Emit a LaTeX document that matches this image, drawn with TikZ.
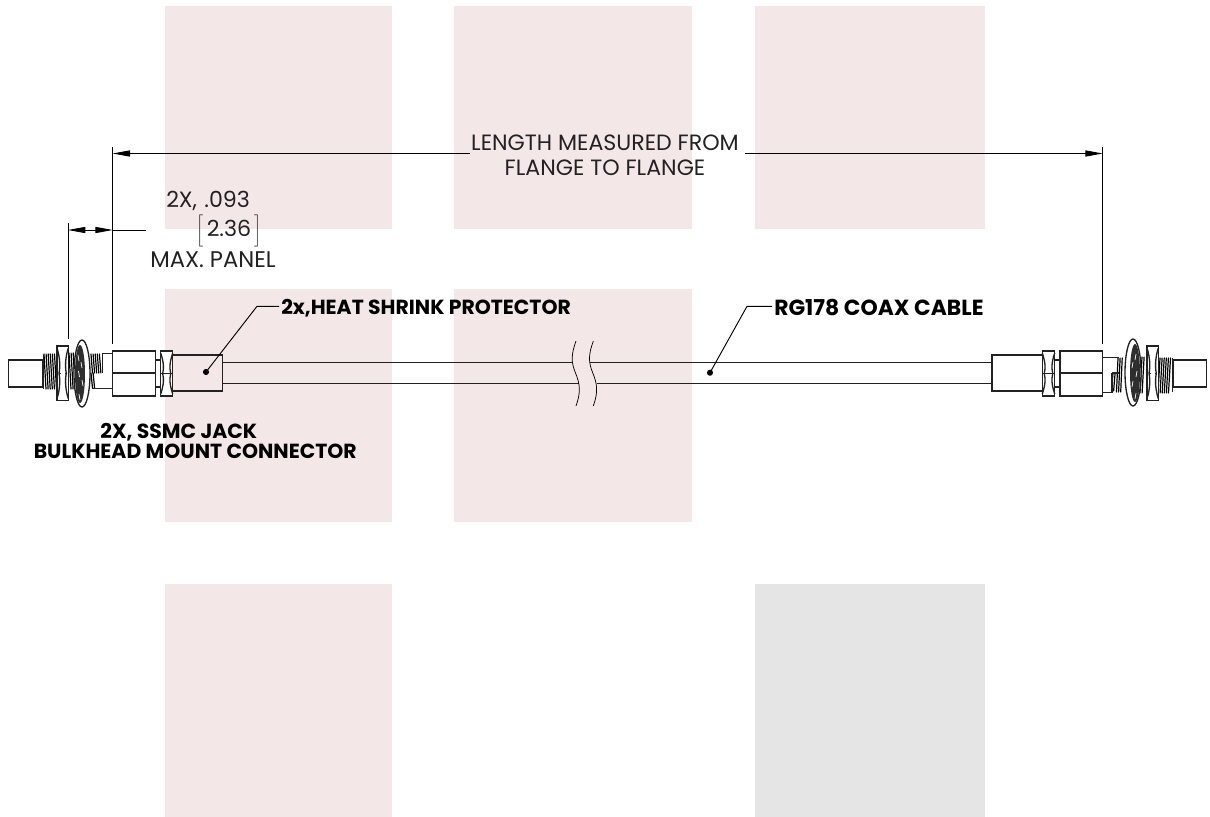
\documentclass[tikz,border=0pt]{standalone}
\usepackage{fontspec}
\setmainfont{Poppins}
\usetikzlibrary{arrows.meta}
\definecolor{pnk}{HTML}{F4E7E7}
\definecolor{gry}{HTML}{E5E5E5}
\definecolor{ink}{HTML}{222222}
\tikzset{
 panel/.style={fill=pnk,draw=none},
 part/.style={draw=ink,line width=1pt,fill=none,line join=miter},
 dim/.style={draw=black,line width=0.6pt},
 leader/.style={draw=black,line width=0.7pt},
 dot/.style={circle,fill=black,inner sep=0pt,minimum size=4.6pt},
 dimtip/.style={-{Triangle[length=13pt,width=4.6pt]}},
 lbl/.style={font=\fontsize{16.6}{18.75}\selectfont,text=ink,inner sep=0pt,align=center},
 blbl/.style={font=\fontsize{15.3}{15}\selectfont\bfseries,text=black,inner sep=1.5pt},
 thread/.style={draw=black,line width=0.9pt,line cap=round},
 breakline/.style={draw=black,line width=0.55pt},
}
% hatch: x from #1 to #2 (step 2.1), y from #3 to #4, slant #5
\newcommand{\hatchrun}[5]{\pgfmathsetmacro{\xnext}{#1+2.1}\foreach \x in {#1,\xnext,...,#2}{\draw[thread] (\x,#3) -- (\x+#5,#4);}}
% nut: x1 x2 y1 y2
\newcommand{\nutbody}[4]{%
 \draw[part,fill=white] (#1,#3) rectangle (#2,#4);
 \pgfmathsetmacro{\ym}{(#3+#4)/2}
 \draw[part] (#1,#3+2) .. controls (#1+3.2,#3+12) and (#1+3.2,\ym-6) .. (#1+2,\ym) .. controls (#1+3.2,\ym+6) and (#1+3.2,#4-12) .. (#1,#4-2);
 \draw[part] (#2,#3+2) .. controls (#2-3.2,#3+12) and (#2-3.2,\ym-6) .. (#2-2,\ym) .. controls (#2-3.2,\ym+6) and (#2-3.2,#4-12) .. (#2,#4-2);
 \draw[part] (#1+2,\ym) -- (#1+3.5,\ym) (#2-2,\ym) -- (#2-3.5,\ym);
}
\begin{document}
\begin{tikzpicture}[x=0.75pt,y=-0.75pt]
\useasboundingbox (0,0) rectangle (1210,817);
\fill[panel] (165,6) rectangle (392,229);
\fill[panel] (454,6) rectangle (692,229);
\fill[panel] (755,6) rectangle (985,229);
\fill[panel] (165,289) rectangle (392,522);
\fill[panel] (454,289) rectangle (692,522);
\fill[panel] (165,584) rectangle (392,817);
\fill[gry] (755,584) rectangle (985,817);

% cable with break
\draw[part] (223,362.7) -- (572.3,362.7) (589.6,362.7) -- (992,362.7);
\draw[part] (223,383.3) -- (579.3,383.3) (596.6,383.3) -- (992,383.3);
\foreach \d in {0,17.3}{
 \draw[breakline] (576+\d,341) .. controls (571+\d,355) and (571+\d,362) .. (575.5+\d,373) .. controls (580+\d,384) and (581+\d,392) .. (576+\d,406);
}

% left connector
\draw[part] (8.3,360) rectangle (43,387);
\hatchrun{44}{55}{354}{389}{2}
\draw[part] (43.5,355) -- (43.5,389);
\nutbody{57}{68.3}{346}{400.6}
\hatchrun{69}{74}{353}{389}{2}
\draw[part,fill=white] (82,373.5) ellipse [x radius=8,y radius=33.5];
\fill[black!82] (80,374) ellipse [x radius=5,y radius=29];
\foreach \x/\y in {78/355,81/362,78.5/371,82/380,79/394}{\draw[white,line width=0.5pt] (\x,\y) -- (\x+1,\y+6);}
\hatchrun{91}{101}{354}{373}{1.5}
\hatchrun{91}{93}{373}{388}{1.5}
\draw[part] (102.7,353.3) -- (112.7,353.3) (102.7,353.3) -- (102.7,373) (92,388.5) -- (112.7,388.5);
\draw[part] (112.7,351) rectangle (155.3,396);
\draw[part] (112.7,373) -- (155.3,373);
\draw[part] (155.3,360) -- (160.7,360) (155.3,387) -- (160.7,387);
\nutbody{160.7}{172.7}{351}{396}
\draw[part] (160.7,373.5) -- (172.7,373.5);
\draw[part] (172.7,355) rectangle (222.7,391);

% right connector
\draw[part] (1173,360) rectangle (1206.7,387);
\hatchrun{1160}{1171}{358}{393}{-2}
\draw[part] (1172.7,358) -- (1172.7,392);
\nutbody{1147}{1158.3}{346}{400.6}
\hatchrun{1142}{1146}{357}{393}{-2}
\draw[part,fill=white] (1133,372.5) ellipse [x radius=8,y radius=33.5];
\fill[black!82] (1135,373) ellipse [x radius=5,y radius=29];
\foreach \x/\y in {1136/354,1133/362,1137/371,1133/381,1136/393}{\draw[white,line width=0.5pt] (\x,\y) -- (\x-1,\y+6);}
\hatchrun{1118}{1124}{358}{392}{-1.5}
\hatchrun{1113}{1117}{373}{391}{-1.5}
\draw[part] (1102.7,357.3) -- (1119,357.3) (1102.7,392.7) -- (1113,392.7) (1112,373) -- (1119,373) (1112,373) -- (1112,392.7);
\draw[part] (1060,351) rectangle (1102.7,396);
\draw[part] (1060,373) -- (1102.7,373);
\draw[part] (1054.7,360) -- (1060,360) (1054.7,387) -- (1060,387);
\nutbody{1042.3}{1054.7}{351}{396}
\draw[part] (1042.3,373.5) -- (1054.7,373.5);
\draw[part] (992,355) rectangle (1042.3,391);

% dimension lines
\coordinate (eL) at (112.7,147); \coordinate (eR) at (1102.7,147);
\coordinate (dimA) at (112.7,153.5); \coordinate (dimB) at (1102.7,153.5);
\coordinate (ext1a) at (68,223); \coordinate (ext1b) at (68,339);
\coordinate (ext2b) at (112.7,344);
\coordinate (ext3b) at (1102.7,344);
\draw[dim] (eL) -- (ext2b);
\draw[dim] (eR) -- (ext3b);
\draw[dim] (ext1a) -- (ext1b);
\node[lbl] (lenlabel) at (605,155.5) {LENGTH MEASURED FROM\\FLANGE TO FLANGE};
\coordinate (lenW) at (470,153.5); \coordinate (lenE) at (745,153.5);
\draw[dim,dimtip] (lenW) -- (dimA);
\draw[dim,dimtip] (lenE) -- (dimB);
\coordinate (d1) at (68,230); \coordinate (d2) at (112.7,230); \coordinate (d3) at (146,230); \coordinate (dm) at (90,230);
\draw[dim,dimtip] (dm) -- (d1);
\draw[dim,dimtip] (dm) -- (d2);
\draw[dim] (d2) -- (d3);
\node[lbl,anchor=west] (two) at (166,201) {2X,\hspace{5.5pt}.093};
\node[lbl] (mm) at (229,230.5) {$\left[\rule[-6.5pt]{0pt}{18pt}\right.$\hspace{1.5pt}2.36\hspace{1.5pt}$\left.\rule[-6.5pt]{0pt}{18pt}\right]$};
\node[lbl] (maxp) at (213,260) {\fontsize{17}{18.75}\selectfont MAX. PANEL};

% leaders
\node[blbl,anchor=west] (heat) at (279,308) {2x,HEAT SHRINK PROTECTOR};
\node[blbl,anchor=west] (rg) at (772,308) {\fontsize{16.4}{15}\selectfont RG178 COAX CABLE};
\node[blbl,anchor=west,align=left] (jack) at (31.5,441) {\hspace*{50pt}2X, SSMC JACK\\BULKHEAD MOUNT CONNECTOR};
\node[dot] (dh) at (206,372) {};
\node[dot] (dr) at (710,372.7) {};
\coordinate (kh) at (257,306.3);
\coordinate (kr) at (747,306.3);
\draw[leader] (dh.center) -- (kh) -- (kh -| heat.west);
\draw[leader] (dr.center) -- (kr) -- (kr -| rg.west);
\end{tikzpicture}
\end{document}
